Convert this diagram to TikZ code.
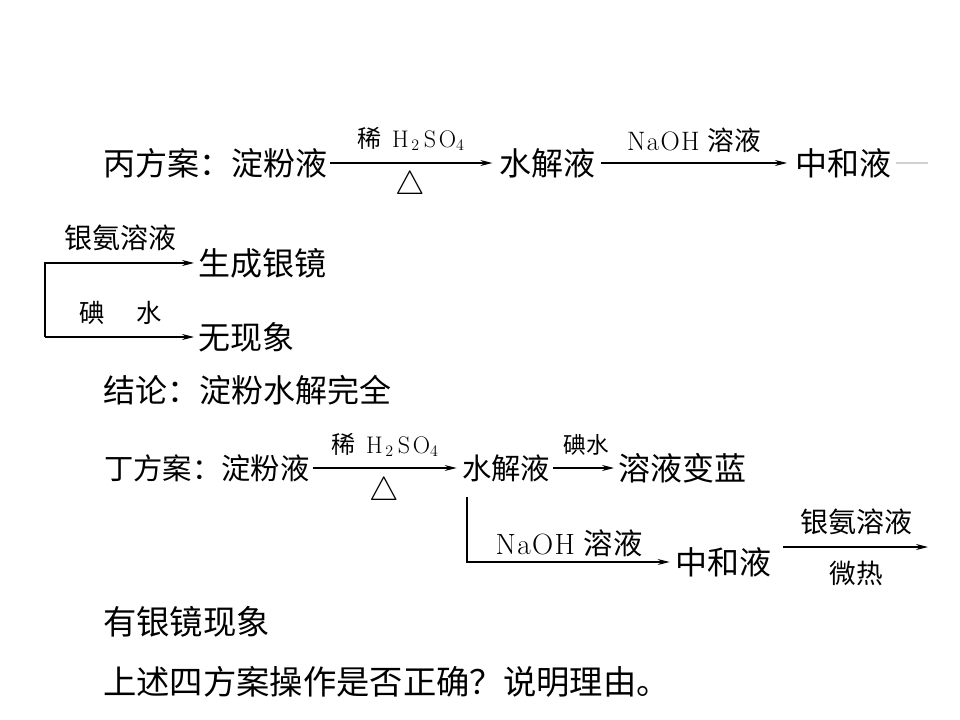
\documentclass[tikz,border=0pt]{standalone}
\usepackage{fontspec}
\newfontfamily\cjk{Noto Sans CJK SC}
\usetikzlibrary{arrows.meta}
\newcommand{\fs}[1]{\fontsize{#1}{#1}\selectfont}
\newcommand{\hso}{H\kern2pt$_{2}$\kern3pt S\kern2pt O$_{4}$}
\begin{document}
\begin{tikzpicture}[x=0.75pt,y=-0.75pt,
  txt/.style={inner sep=0pt,anchor=west,font=\cjk\fs{24}},
  txts/.style={inner sep=0pt,anchor=west,font=\cjk\fs{22}},
  txtl/.style={inner sep=0pt,anchor=west,font=\cjk\fs{25}},
  lbl/.style={inner sep=0pt,font=\fs{18}},
  tri/.style={inner sep=0pt,font=\fs{23}},
  arr/.style={-{Stealth[length=9pt,width=4.5pt]},line width=0.8pt}]
\useasboundingbox (0,0) rectangle (960,720);

% --- line 1
\node[txt] (b0) at (103,163) {丙方案：淀粉液};
\node[txt] (b1) at (499,163) {水解液};
\node[txt] (b2) at (795,163) {中和液};
\coordinate (g1) at (928,163);
\draw[arr,shorten <=2pt,shorten >=5pt] (b0.east) -- (b1.west);
\draw[arr,shorten <=4pt,shorten >=6pt] (b1.east) -- (b2.west);
\draw[gray!35,line width=0.8pt,shorten <=3pt] (b2.east) -- (g1);
\node[lbl] (l1) at (411,139) {{\cjk 稀}\hspace{8pt}\hso};
\node[tri] (t1) at (410,186) {$\triangle$};
\node[lbl,font=\fs{20}] (l2) at (694,140) {N\kern1pt a\kern1pt O\kern1pt H\ {\cjk 溶液}};

% --- line 2
\coordinate (c0) at (45,263);
\coordinate (c1) at (45,337);
\node[txt] (s1) at (198,263) {生成银镜};
\node[txt] (s2) at (198,337) {无现象};
\draw[arr,shorten >=3pt] (c1) -- (c0) -- (s1.west);
\draw[arr,shorten >=3pt] (c1) -- (s2.west);
\node[lbl,font=\cjk\fs{21}] (l3) at (120,238) {银氨溶液};
\node[lbl,font=\cjk\fs{19}] (l4) at (121,313) {碘\hspace{24pt}水};

% --- line 3
\node[txt] (j) at (103,390) {结论：淀粉水解完全};

% --- line 4
\node[txts] (d0) at (104,468) {丁方案：淀粉液};
\node[txts] (d1) at (462,468) {水解液};
\node[txt] (d2) at (618,468) {溶液变蓝};
\draw[arr,shorten <=2pt,shorten >=4pt] (d0.east) -- (d1.west);
\draw[arr,shorten <=2pt,shorten >=3pt] (d1.east) -- (d2.west);
\node[lbl] (l5) at (385,445) {{\cjk 稀}\hspace{8pt}\hso};
\node[tri] (t2) at (384,492) {$\triangle$};
\node[lbl,font=\cjk\fs{17}] (l6) at (586,445) {碘水};
\coordinate (v0) at (467,497);
\node[txt] (d3) at (675,562) {中和液};
\draw[arr,shorten >=4pt] (v0) |- (d3.west);
\node[lbl,font=\fs{22}] (l7) at (569,543) {N\kern1pt a\kern1pt O\kern1pt H\ {\cjk 溶液}};
\coordinate (a0) at (783,547);
\coordinate (a1) at (928,547);
\draw[arr] (a0) -- (a1);
\node[lbl,font=\cjk\fs{21}] (l8) at (856,522) {银氨溶液};
\node[lbl,font=\cjk\fs{20}] (l9) at (856,573) {微热};

% --- line 5
\node[txtl] (e1) at (103,622) {有银镜现象};
\node[txtl] (e2) at (103,682) {上述四方案操作是否正确？说明理由。};
\end{tikzpicture}
\end{document}
